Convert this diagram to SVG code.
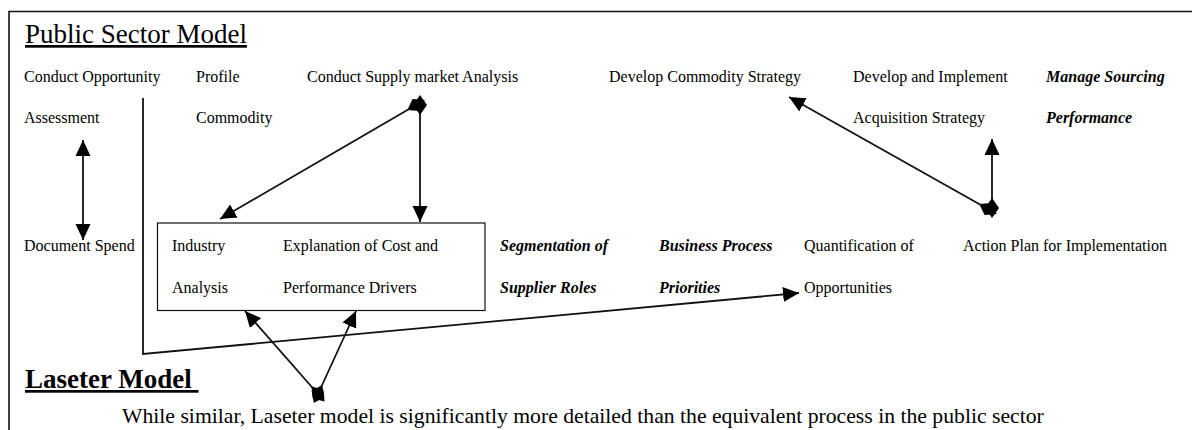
<svg xmlns="http://www.w3.org/2000/svg" width="1192" height="430" viewBox="0 0 1192 430">
  <style>
    text { font-family: "Liberation Serif", "Times New Roman", serif; font-size: 16px; fill: #000; }
    .bi { font-weight: bold; font-style: italic; }
    .title { font-size: 27px; text-decoration: underline; }
    .title2 { font-size: 27px; font-weight: bold; text-decoration: underline; }
    .note { font-size: 21.7px; }
    .frame { fill: none; stroke: #111; stroke-width: 1.6; }
    .box { fill: none; stroke: #111; stroke-width: 1.2; }
    .conn { fill: none; stroke: #111; stroke-width: 1.8; }
  </style>
  <defs>
    <marker id="arrow" viewBox="0 0 16 16" refX="16" refY="8" markerWidth="16" markerHeight="16" markerUnits="userSpaceOnUse" orient="auto-start-reverse">
      <path d="M0,0.5 L16,8 L0,15.5 z" fill="#000"/>
    </marker>
    <marker id="diamond" viewBox="0 0 20 14" refX="10" refY="7" markerWidth="20" markerHeight="14" markerUnits="userSpaceOnUse" orient="auto">
      <path d="M0,7 L10,0 L20,7 L10,14 z" fill="#000"/>
    </marker>
  </defs>

  <rect width="1192" height="430" fill="#fff"/>

  <!-- outer frame (open to the right and bottom) -->
  <path class="frame" d="M9,430 V11.5 H1192"/>

  <!-- headings -->
  <g id="heading-public">
    <text class="title" x="25" y="43">Public Sector Model</text>
  </g>
  <g id="heading-laseter">
    <text class="title2" x="25" y="388">Laseter Model&#160;</text>
  </g>
  <g id="summary">
    <text class="note" x="122" y="423">While similar, Laseter model is significantly more detailed than the equivalent process in the public sector</text>
  </g>

  <!-- public sector steps -->
  <g id="opportunity-assessment">
    <text x="24" y="82">Conduct Opportunity</text>
    <text x="24" y="123">Assessment</text>
  </g>
  <g id="profile-commodity">
    <text x="196" y="82">Profile</text>
    <text x="196" y="123">Commodity</text>
  </g>
  <g id="supply-market-analysis">
    <text x="307" y="82">Conduct Supply market Analysis</text>
  </g>
  <g id="commodity-strategy">
    <text x="609" y="82">Develop Commodity Strategy</text>
  </g>
  <g id="acquisition-strategy">
    <text x="853" y="82">Develop and Implement</text>
    <text x="853" y="123">Acquisition Strategy</text>
  </g>
  <g id="sourcing-performance">
    <text class="bi" x="1046" y="82">Manage Sourcing</text>
    <text class="bi" x="1046" y="123">Performance</text>
  </g>

  <!-- Laseter steps -->
  <g id="document-spend">
    <text x="24" y="251">Document Spend</text>
  </g>
  <g id="industry-cost-box">
    <rect class="box" x="157.5" y="223" width="327.5" height="87.5"/>
    <text x="172" y="251">Industry</text>
    <text x="172" y="293">Analysis</text>
    <text x="283" y="251">Explanation of Cost and</text>
    <text x="283" y="293">Performance Drivers</text>
  </g>
  <g id="supplier-segmentation">
    <text class="bi" x="500" y="251">Segmentation of</text>
    <text class="bi" x="500" y="293">Supplier Roles</text>
  </g>
  <g id="process-priorities">
    <text class="bi" x="659" y="251">Business Process</text>
    <text class="bi" x="659" y="293">Priorities</text>
  </g>
  <g id="quantification">
    <text x="804" y="251">Quantification of</text>
    <text x="804" y="293">Opportunities</text>
  </g>
  <g id="action-plan">
    <text x="963" y="251">Action Plan for Implementation</text>
  </g>

  <!-- connectors -->
  <g id="connectors">
    <line class="conn" x1="83" y1="140" x2="83" y2="240" marker-start="url(#arrow)" marker-end="url(#arrow)"/>
    <line class="conn" x1="416" y1="105" x2="220" y2="219" marker-start="url(#diamond)" marker-end="url(#arrow)"/>
    <line class="conn" x1="420" y1="105" x2="420" y2="222" marker-start="url(#diamond)" marker-end="url(#arrow)"/>
    <line class="conn" x1="988" y1="209" x2="789" y2="97" marker-start="url(#diamond)" marker-end="url(#arrow)"/>
    <line class="conn" x1="992" y1="208" x2="992" y2="139" marker-start="url(#diamond)" marker-end="url(#arrow)"/>
    <line class="conn" x1="318" y1="394" x2="245" y2="311" marker-start="url(#diamond)" marker-end="url(#arrow)"/>
    <line class="conn" x1="318" y1="394" x2="356" y2="311" marker-start="url(#diamond)" marker-end="url(#arrow)"/>
    <polyline class="conn" points="143,98 143,354 799,293" marker-end="url(#arrow)"/>
  </g>
</svg>
